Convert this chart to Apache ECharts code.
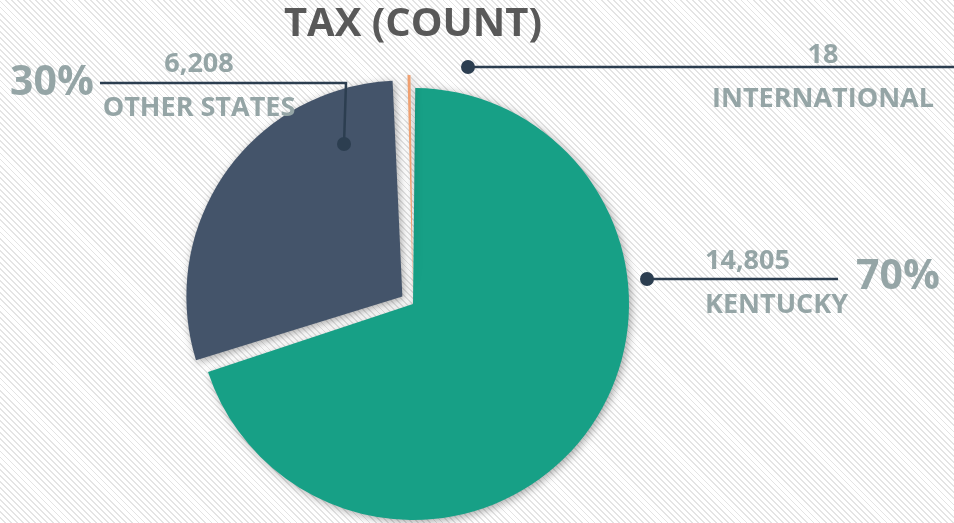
<!DOCTYPE html>
<html>
<head>
<meta charset="utf-8">
<script src="https://cdn.jsdelivr.net/npm/echarts@6/dist/echarts.min.js"></script>
<style>
    html, body { margin: 0; padding: 0; }
    body {
        background-color: #fff;
        background-image: repeating-linear-gradient(45deg, #fff 0px, #fff 3px, #e4e4e4 3px, #e4e4e4 4.3px);
    }
    #main { width: 954px; height: 523px; }
</style>
</head>
<body>
<div id="main"></div>
<script>
    // data
    var categories = ['KENTUCKY', 'OTHER STATES', 'INTERNATIONAL'];
    var counts = [14805, 6208, 18];
    var exploded = [false, true, true];
    var colors = ['#17a086', '#44546a', '#f0a070'];

    var total = counts.reduce(function (a, b) { return a + b; }, 0);

    // label placement (line points + text anchor) per slice
    var labelPos = [
        {line: [[647, 279], [742, 279], [838, 279]], x: 705, y: 283, align: 'left', pct: [898, 277]},
        {line: [[344, 144], [346, 83], [100, 83]], x: 199, y: 86, align: 'center', pct: [52, 83]},
        {line: [[468, 67], [700, 67], [954, 67]], x: 823, y: 77, align: 'center', pct: null}
    ];

    var fmt = function (n) { return n.toString().replace(/\B(?=(\d{3})+(?!\d))/g, ','); };

    var sliceData = categories.map(function (name, i) {
        return {
            name: name,
            value: counts[i],
            selected: exploded[i],
            itemStyle: {color: colors[i]}
        };
    });
    // same values, not exploded, only used to carry the labels
    var labelData = categories.map(function (name, i) {
        return {name: name, value: counts[i]};
    });

    var graphics = [];
    labelPos.forEach(function (p, i) {
        graphics.push({
            type: 'circle',
            shape: {cx: p.line[0][0], cy: p.line[0][1], r: 7},
            style: {fill: '#2c3e50'},
            z: 100
        });
        if (p.pct) {
            graphics.push({
                type: 'text',
                x: p.pct[0],
                y: p.pct[1],
                style: {
                    text: Math.round(counts[i] / total * 100) + '%',
                    font: 'bold 41px "Open Sans"',
                    fill: '#95a5a6',
                    align: 'center',
                    verticalAlign: 'middle'
                },
                z: 100
            });
        }
    });

    var myChart = echarts.init(document.getElementById('main'));
    var option = {
        animation: false,
        backgroundColor: 'transparent',
        title: {
            text: 'TAX (COUNT)',
            left: 408,
            top: 0,
            textAlign: 'center',
            textStyle: {
                fontFamily: 'Open Sans',
                fontWeight: 'bold',
                fontSize: 40,
                color: '#595959'
            }
        },
        graphic: graphics,
        series: [
            {
                type: 'pie',
                z: 2,
                center: [413, 304],
                radius: 216,
                startAngle: 90,
                clockwise: true,
                minAngle: 0.8,
                padAngle: 1.2,
                selectedMode: 'multiple',
                selectedOffset: 13,
                emphasis: {disabled: true},
                itemStyle: {
                    shadowBlur: 8,
                    shadowColor: 'rgba(0,0,0,0.35)',
                    shadowOffsetX: 2,
                    shadowOffsetY: 2
                },
                label: {show: false},
                labelLine: {show: false},
                data: sliceData
            },
            {
                type: 'pie',
                z: 5,
                center: [413, 304],
                radius: 216,
                startAngle: 90,
                clockwise: true,
                silent: true,
                avoidLabelOverlap: false,
                emphasis: {disabled: true},
                itemStyle: {color: 'rgba(0,0,0,0)'},
                label: {
                    show: true,
                    position: 'outside',
                    formatter: function (p) {
                        return '{v|' + fmt(p.value) + '}\n{n|' + p.name + '}';
                    },
                    rich: {
                        v: {fontFamily: 'Open Sans', fontWeight: 'bold', fontSize: 27, lineHeight: 44, color: '#95a5a6'},
                        n: {fontFamily: 'Open Sans', fontWeight: 'bold', fontSize: 27, lineHeight: 44, color: '#95a5a6'}
                    }
                },
                labelLine: {
                    show: true,
                    lineStyle: {color: '#2c3e50', width: 2.5}
                },
                labelLayout: function (params) {
                    var p = labelPos[params.dataIndex];
                    return {
                        x: p.x,
                        y: p.y,
                        align: p.align,
                        verticalAlign: 'middle',
                        labelLinePoints: p.line
                    };
                },
                data: labelData
            }
        ]
    };
    myChart.setOption(option);
</script>
</body>
</html>
